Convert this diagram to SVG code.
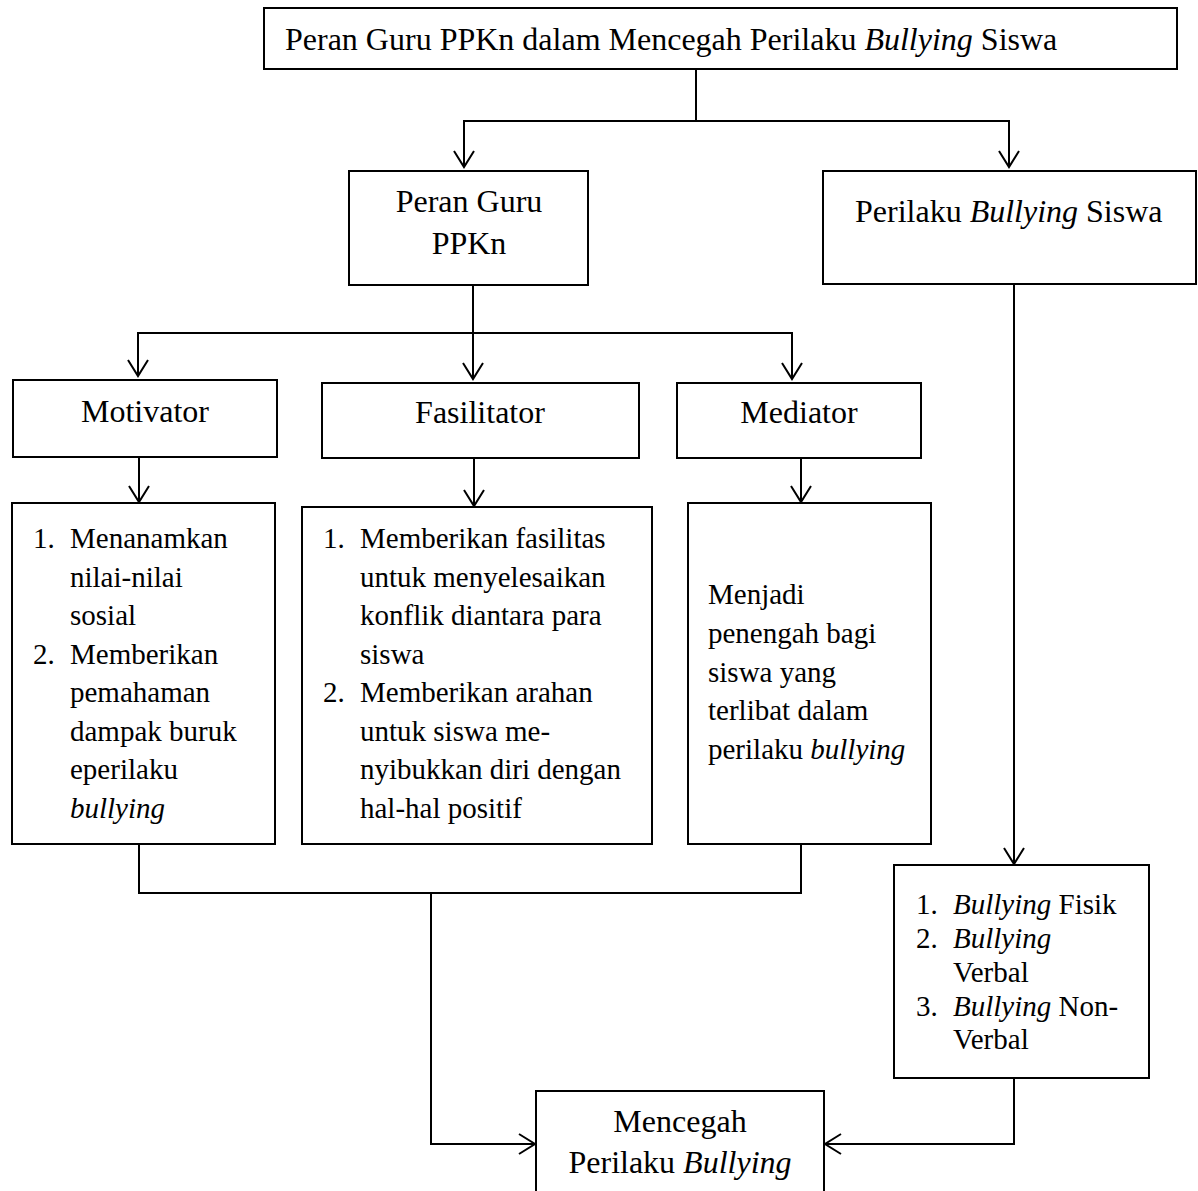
<svg xmlns="http://www.w3.org/2000/svg" width="1198" height="1191" viewBox="0 0 1198 1191">
<style>
  .box { fill: #fff; stroke: #000; stroke-width: 2; }
  .ln { fill: none; stroke: #000; stroke-width: 2; }
  text { font-family: "Liberation Serif", "Times New Roman", serif; fill: #000; }
  .lbl { font-size: 32px; }
  .body { font-size: 29px; }
  .c { text-anchor: middle; }
  .i { font-style: italic; }
</style>
<defs>
  <marker id="arr" markerUnits="userSpaceOnUse" markerWidth="24" markerHeight="24" viewBox="-20 -12 24 24" refX="0" refY="0" orient="auto">
    <path d="M-16,-10 L0,0 L-16,10" fill="none" stroke="#000" stroke-width="2"/>
  </marker>
</defs>
<rect width="1198" height="1191" fill="#fff"/>

<g id="connectors">
  <polyline class="ln" points="696,69 696,121"/>
  <polyline class="ln" points="696,121 464,121 464,167" marker-end="url(#arr)"/>
  <polyline class="ln" points="696,121 1009,121 1009,167" marker-end="url(#arr)"/>
  <polyline class="ln" points="473,285 473,379" marker-end="url(#arr)"/>
  <polyline class="ln" points="473,333 138,333 138,376" marker-end="url(#arr)"/>
  <polyline class="ln" points="473,333 792,333 792,379" marker-end="url(#arr)"/>
  <polyline class="ln" points="139,457 139,502" marker-end="url(#arr)"/>
  <polyline class="ln" points="474,458 474,506" marker-end="url(#arr)"/>
  <polyline class="ln" points="801,458 801,502" marker-end="url(#arr)"/>
  <polyline class="ln" points="1014,284 1014,864" marker-end="url(#arr)"/>
  <polyline class="ln" points="139,844 139,893 801,893 801,844"/>
  <polyline class="ln" points="431,893 431,1144 535,1144" marker-end="url(#arr)"/>
  <polyline class="ln" points="1014,1078 1014,1144 825,1144" marker-end="url(#arr)"/>
</g>

<g id="node-title">
  <rect class="box" x="264" y="8" width="913" height="61"/>
  <text class="lbl" x="285" y="50">Peran Guru PPKn dalam Mencegah Perilaku <tspan class="i">Bullying</tspan> Siswa</text>
</g>

<g id="node-peran-guru">
  <rect class="box" x="349" y="171" width="239" height="114"/>
  <text class="lbl c" x="469" y="212">Peran Guru</text>
  <text class="lbl c" x="469" y="254">PPKn</text>
</g>

<g id="node-perilaku">
  <rect class="box" x="823" y="171" width="373" height="113"/>
  <text class="lbl" x="855" y="222">Perilaku <tspan class="i">Bullying</tspan> Siswa</text>
</g>

<g id="node-motivator">
  <rect class="box" x="13" y="380" width="264" height="77"/>
  <text class="lbl c" x="145" y="422">Motivator</text>
</g>

<g id="node-fasilitator">
  <rect class="box" x="322" y="383" width="317" height="75"/>
  <text class="lbl c" x="480" y="423">Fasilitator</text>
</g>

<g id="node-mediator">
  <rect class="box" x="677" y="383" width="244" height="75"/>
  <text class="lbl c" x="799" y="423">Mediator</text>
</g>

<g id="node-motivator-detail">
  <rect class="box" x="12" y="503" width="263" height="341"/>
  <text class="body" x="33" y="548">1.</text>
  <text class="body" x="70" y="548">Menanamkan</text>
  <text class="body" x="70" y="586.5">nilai-nilai</text>
  <text class="body" x="70" y="625">sosial</text>
  <text class="body" x="33" y="663.5">2.</text>
  <text class="body" x="70" y="663.5">Memberikan</text>
  <text class="body" x="70" y="702">pemahaman</text>
  <text class="body" x="70" y="740.5">dampak buruk</text>
  <text class="body" x="70" y="779">eperilaku</text>
  <text class="body i" x="70" y="817.5">bullying</text>
</g>

<g id="node-fasilitator-detail">
  <rect class="box" x="302" y="507" width="350" height="337"/>
  <text class="body" x="323" y="548">1.</text>
  <text class="body" x="360" y="548">Memberikan fasilitas</text>
  <text class="body" x="360" y="586.5">untuk menyelesaikan</text>
  <text class="body" x="360" y="625">konflik diantara para</text>
  <text class="body" x="360" y="663.5">siswa</text>
  <text class="body" x="323" y="702">2.</text>
  <text class="body" x="360" y="702">Memberikan arahan</text>
  <text class="body" x="360" y="740.5">untuk siswa me-</text>
  <text class="body" x="360" y="779">nyibukkan diri dengan</text>
  <text class="body" x="360" y="817.5">hal-hal positif</text>
</g>

<g id="node-mediator-detail">
  <rect class="box" x="688" y="503" width="243" height="341"/>
  <text class="body" x="708" y="604">Menjadi</text>
  <text class="body" x="708" y="643">penengah bagi</text>
  <text class="body" x="708" y="682">siswa yang</text>
  <text class="body" x="708" y="720">terlibat dalam</text>
  <text class="body" x="708" y="759">perilaku <tspan class="i">bullying</tspan></text>
</g>

<g id="node-bullying-types">
  <rect class="box" x="894" y="865" width="255" height="213"/>
  <text class="body" x="916" y="914">1.</text>
  <text class="body" x="953" y="914"><tspan class="i">Bullying</tspan> Fisik</text>
  <text class="body" x="916" y="948">2.</text>
  <text class="body i" x="953" y="948">Bullying</text>
  <text class="body" x="953" y="982">Verbal</text>
  <text class="body" x="916" y="1016">3.</text>
  <text class="body" x="953" y="1016"><tspan class="i">Bullying</tspan> Non-</text>
  <text class="body" x="953" y="1049">Verbal</text>
</g>

<g id="node-mencegah">
  <rect class="box" x="536" y="1091" width="288" height="110"/>
  <text class="lbl c" x="680" y="1132">Mencegah</text>
  <text class="lbl c" x="680" y="1173">Perilaku <tspan class="i">Bullying</tspan></text>
</g>
</svg>
